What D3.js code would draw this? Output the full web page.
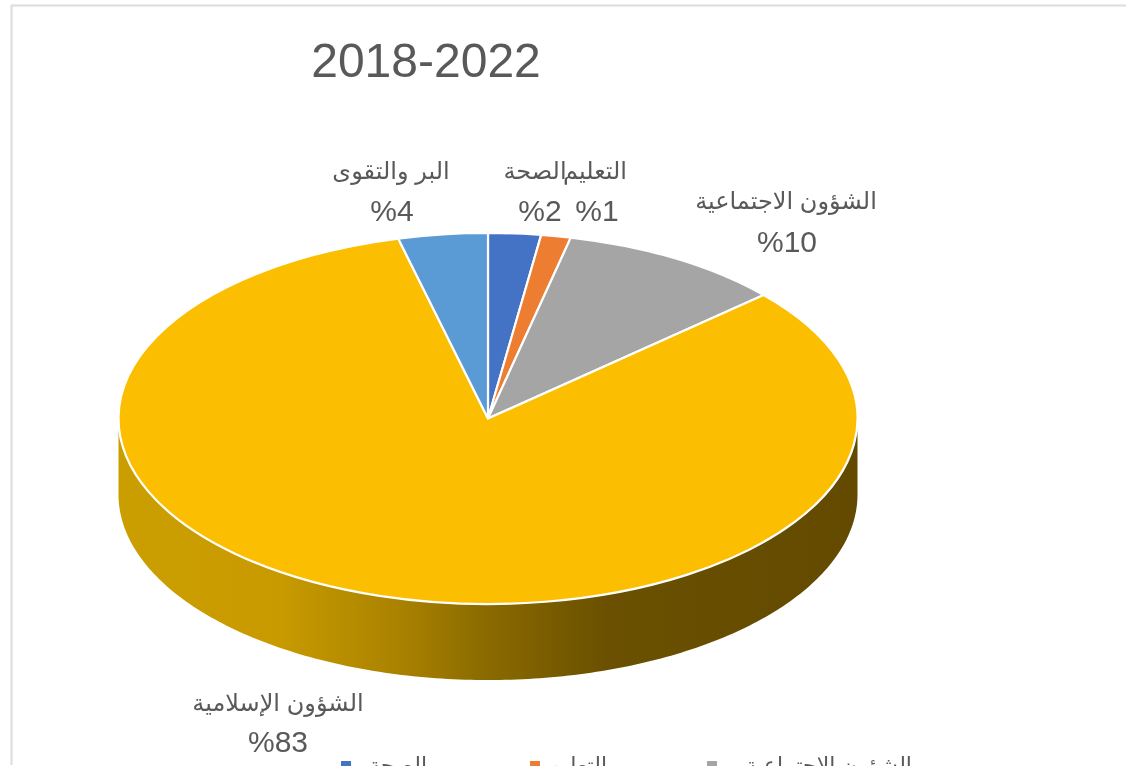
<!DOCTYPE html>
<html lang="ar"><head><meta charset="utf-8">
<script src="https://cdnjs.cloudflare.com/ajax/libs/d3/7.8.5/d3.min.js"></script>
<style>html,body{margin:0;padding:0;background:#fff;overflow:hidden}svg{display:block;filter:blur(.5px)}
text{font-family:"Liberation Sans",Arial,"DejaVu Sans",sans-serif;fill:#595959}</style>
</head><body><svg id="c" width="1126" height="771"></svg>
<script>
const categories = ["الصحة","التعليم","الشؤون الاجتماعية","الشؤون الإسلامية","البر والتقوى"];
const values = [2.3, 1.3, 9.8, 82.7, 3.9];
const valueLabels = ["%2","%1","%10","%83","%4"];
const colors = ["#4472c4","#ed7d31","#a5a5a5","#fcbe00","#5b9bd5"];
const titleText = "2018-2022";
const legendCategories = categories.slice(0,3);

const svg = d3.select("#c");
const cx=488, cy=418.5, rx=369.5, ry=185.5, depth=76;

// chart frame
svg.append("path").attr("d","M1126,5.5H11.5V765").attr("fill","none").attr("stroke","#dcdcdc").attr("stroke-width",2);

const defs = svg.append("defs");
const g = defs.append("linearGradient").attr("id","wall").attr("gradientUnits","userSpaceOnUse")
  .attr("x1",cx-rx).attr("x2",cx+rx).attr("y1",0).attr("y2",0);
[[0,"#cb9e00"],[.22,"#c89a00"],[.38,"#a98200"],[.5,"#8a6a00"],[.66,"#6a5000"],[1,"#644a00"]]
 .forEach(([o,c])=>g.append("stop").attr("offset",o).attr("stop-color",c));

const pie = d3.pie().sort(null).value(d=>d);
const arcs = pie(values);
const arc = d3.arc().innerRadius(0).outerRadius(1);

// side wall, from the front half of the slice that faces the viewer
const big = arcs[3];
const a0 = Math.max(big.startAngle, Math.PI/2), a1 = Math.min(big.endAngle, 3*Math.PI/2);
const theta = d3.scaleLinear().domain([0,1]).range([a0,a1]);
const wall = d3.area()
  .x(t=>cx+rx*Math.sin(theta(t)))
  .y0(t=>cy-ry*Math.cos(theta(t)))
  .y1(t=>cy-ry*Math.cos(theta(t))+depth);
svg.append("path").attr("d",wall(d3.range(0,1.0001,1/200))).attr("fill","url(#wall)");

// top face
svg.append("g").attr("transform",`translate(${cx},${cy}) scale(${rx},${ry})`)
  .selectAll("path").data(arcs).join("path")
  .attr("d",arc).attr("fill",(d,i)=>colors[i])
  .attr("stroke","#fff").attr("stroke-width",2.2).attr("vector-effect","non-scaling-stroke")
  .attr("stroke-linejoin","round");

svg.append("text").attr("x",426).attr("y",77).attr("text-anchor","middle")
  .attr("font-size",48).style("direction","ltr").text(titleText);

// data labels
const labelPos = [[535,179,540,221],[595,179,597,221],[786,209,787,252],[278,711,278,752],[391,179,392,221]];
const labels = svg.append("g").selectAll("g").data(categories).join("g");
labels.append("text").attr("text-anchor","middle").attr("font-size",24)
  .attr("x",(d,i)=>labelPos[i][0]).attr("y",(d,i)=>labelPos[i][1]).attr("direction","rtl").text(d=>d);
labels.append("text").attr("text-anchor","middle").attr("font-size",30)
  .attr("x",(d,i)=>labelPos[i][2]).attr("y",(d,i)=>labelPos[i][3]).style("direction","ltr")
  .text((d,i)=>valueLabels[i]);

// legend, cut off by the bottom of the screenshot
defs.append("clipPath").attr("id","cut").append("rect").attr("x",0).attr("y",0).attr("width",1126).attr("height",766);
const legX = [[346,427],[535,607],[712,912]];
const leg = svg.append("g").attr("clip-path","url(#cut)").selectAll("g").data(legendCategories).join("g");
leg.append("rect").attr("x",(d,i)=>legX[i][0]-5).attr("y",761).attr("width",10).attr("height",5).attr("fill",(d,i)=>colors[i]);
leg.append("text").attr("x",(d,i)=>legX[i][1]).attr("y",773).attr("text-anchor","start").attr("direction","rtl")
  .attr("font-size",22).text(d=>d);
</script></body></html>
